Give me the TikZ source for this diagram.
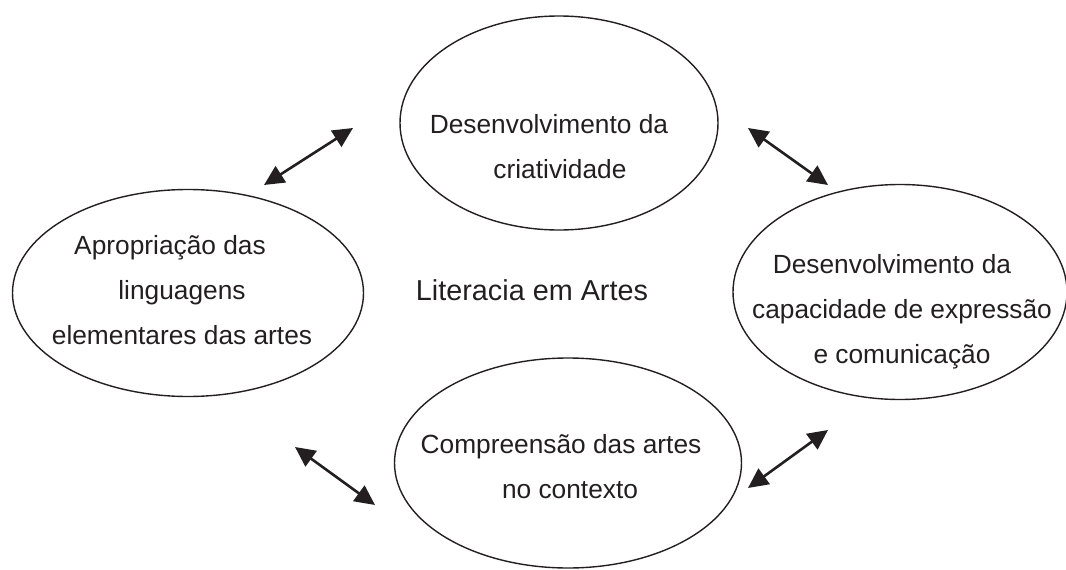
\documentclass[tikz,border=0pt]{standalone}
\usepackage{fontspec}
\setmainfont{Liberation Sans}
\usetikzlibrary{shapes.geometric,arrows.meta}
\definecolor{ink}{HTML}{231F20}
\tikzset{
  oval/.style={draw=ink, line width=1.4pt, ellipse, inner sep=0pt},
  lbl/.style={text=ink, align=center, font=\fontsize{26.3}{45}\selectfont, inner sep=0pt},
  title/.style={text=ink, font=\fontsize{28.8}{34}\selectfont, inner sep=0pt},
  dbl/.style={draw=ink, line width=2.6pt, {Triangle[length=20pt,width=19pt]}-{Triangle[length=20pt,width=19pt]}}
}
\begin{document}
\begin{tikzpicture}[x=1pt,y=-1pt]
\useasboundingbox (0,0) rectangle (1066,570);
% ellipses
\node[oval, minimum width=318pt, minimum height=214pt] (top) at (559,123) {};
\node[oval, minimum width=351pt, minimum height=207pt] (left) at (188,293) {};
\node[oval, minimum width=334pt, minimum height=215pt] (right) at (900,292) {};
\node[oval, minimum width=347pt, minimum height=210pt] (bottom) at (568,463) {};
% texts
\node[lbl] (ttop) at (560,147) {Desenvolvimento da\hspace*{22pt}\\criatividade};
\node[lbl] (tleft) at (182,290) {Apropriação das\hspace*{24pt}\\linguagens\\elementares das artes};
\node[lbl] (tright) at (902,312) {Desenvolvimento da\hspace*{20pt}\\capacidade de expressão\\e comunicação};
\node[lbl] (tbottom) at (570,467) {Compreensão das artes\hspace*{18pt}\\no contexto};
\node[title] (center) at (532,290) {Literacia em Artes};
% arrows
\coordinate (a1) at (264,185); \coordinate (a2) at (353,128);
\coordinate (b1) at (748,128); \coordinate (b2) at (828,185);
\coordinate (c1) at (295,447); \coordinate (c2) at (375,505);
\coordinate (d1) at (748,488); \coordinate (d2) at (828,430);
\draw[dbl] (a1) -- (a2);
\draw[dbl] (b1) -- (b2);
\draw[dbl] (c1) -- (c2);
\draw[dbl] (d1) -- (d2);
\end{tikzpicture}
\end{document}
